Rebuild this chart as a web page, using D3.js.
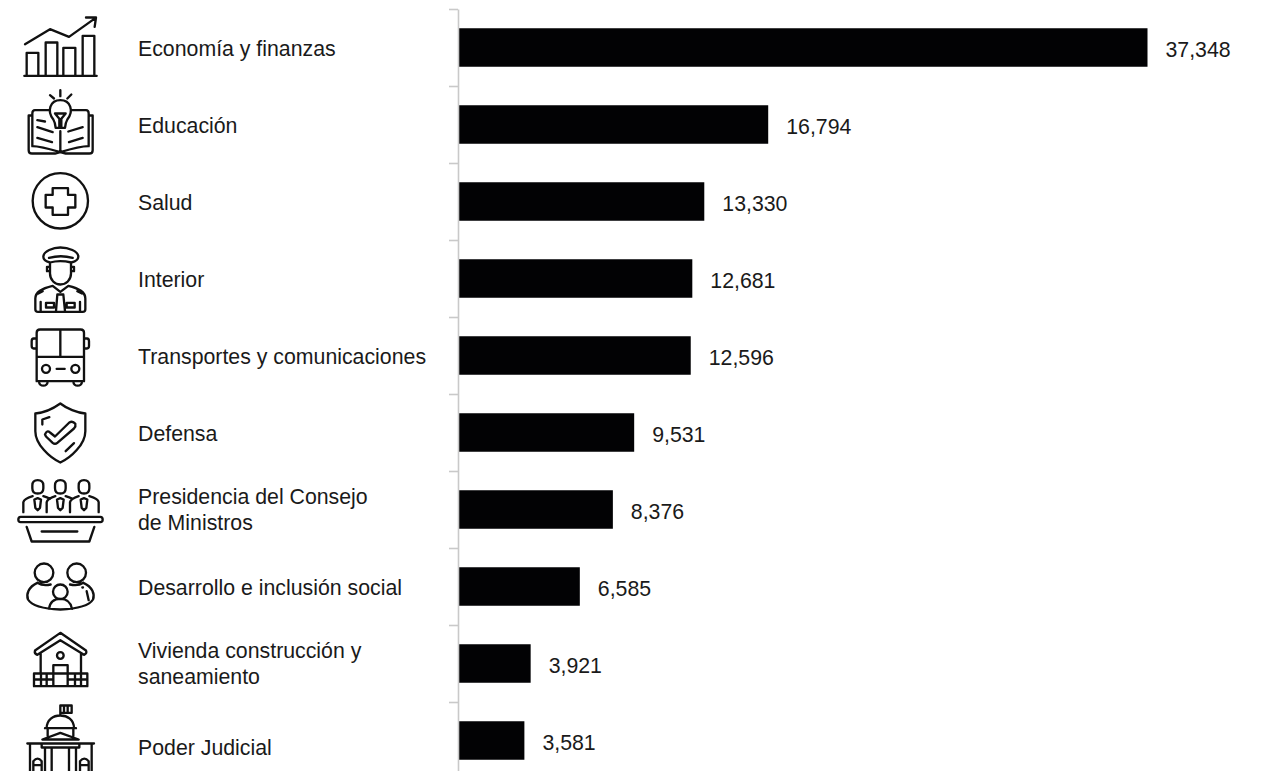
<!DOCTYPE html>
<html>
<head>
<meta charset="utf-8">
<script src="https://cdn.jsdelivr.net/npm/d3@7"></script>
<style>
  html, body { margin: 0; padding: 0; background: #fff; overflow: hidden; }
  text { font-family: "Liberation Sans", Arial, sans-serif; font-size: 21.3px; fill: #1a1a1a; }
</style>
</head>
<body>
<div id="chart"></div>
<script>
var categories = ["Economía y finanzas", "Educación", "Salud", "Interior", "Transportes y comunicaciones",
  "Defensa", "Presidencia del Consejo\nde Ministros", "Desarrollo e inclusión social",
  "Vivienda construcción y\nsaneamiento", "Poder Judicial"];
var values = [37348, 16794, 13330, 12681, 12596, 9531, 8376, 6585, 3921, 3581];

// icons, traced at 3x, each one with the y of its row centre in the trace
var iconOrigins = [142, 375, 605, 130, 363, 594, 120, 351, 582, 813];
var icons = [
  // economia
  "M75 132L150 87L207 110L287 53M258 52H288L284 80M80 226V158H115V226M137 226V127H172V226M190 226V143H226V226M248 226V107H283V226M73 227H290",
  // educacion
  "M160 360C140 335 150 302 181 302C212 302 222 335 202 360C197 368 196 375 195 385H167C166 375 165 368 160 360ZM181 272V290M150 287L162 297M214 285L202 297M165 342H197L184 358V382M178 382V358L165 342M150 332H105Q97 332 97 342V440Q120 440 181 458M215 332H258Q266 332 266 342V440Q240 440 181 458M181 395V458M97 348H86V452Q86 462 96 462H165L181 458L197 462H268Q278 462 278 452V348H266M112 362L135 366M112 383L158 398M112 415L156 428M248 383L205 396M248 415L207 428",
  // salud
  "M98 603A83 83 0 1 0 264 603A83 83 0 1 0 98 603ZM158 565H204V585H226V623H204V645H158V623H137V585H158Z",
  // interior
  "M130 65C130 48 160 37 181 37C205 37 235 48 235 65C235 76 222 80 214 82C190 76 170 76 150 82C140 80 130 76 130 65ZM147 68C170 62 195 62 218 68M150 82V115C150 135 165 148 181 148C198 148 213 135 213 115V82M150 95H141V108H150M213 95H222V108H213M106 222V190C106 170 125 160 158 152L181 170L205 152C238 160 256 170 256 190V222Q256 230 248 230H114Q106 230 106 222ZM172 178L168 228M190 178L195 228M172 178H190M138 203H162V217H138ZM200 203H224V217H200ZM115 175L128 168M246 175L232 168M122 200V228M240 200V228",
  // transportes
  "M120 285H242Q252 285 252 295V440H110V295Q110 285 120 285ZM181 287V365M110 367H252M109 312H101Q95 312 95 320V334Q95 342 101 342H109M253 312H261Q267 312 267 320V334Q267 342 261 342H253M126 403A12 12 0 1 0 150 403A12 12 0 1 0 126 403ZM214 403A12 12 0 1 0 238 403A12 12 0 1 0 214 403ZM170 403H194M117 440C117 458 143 458 143 440M220 440C220 458 246 458 246 440",
  // defensa
  "M181 507C160 522 130 535 106 537V590C106 630 150 670 181 684C212 670 256 630 256 590V537C232 535 200 522 181 507ZM135 600Q141 585 150 594L165 606L208 564Q218 558 226 568Q228 576 222 582L172 625Q165 631 158 625L138 606ZM127 570V555L148 548M197 650L222 626",
  // presidencia
  "M62 142H301Q308 142 308 150Q308 158 301 158H62Q55 158 55 150Q55 142 62 142ZM80 172L95 216H268L283 172M125 186H232M97 48Q97 32 113 32Q130 32 130 48V56Q130 72 113 72Q97 72 97 56ZM165 48Q165 32 181 32Q197 32 197 48V56Q197 72 181 72Q165 72 165 56ZM236 48Q236 32 252 32Q268 32 268 48V56Q268 72 252 72Q236 72 236 56ZM70 128V98Q72 88 98 80M130 80Q142 84 150 88M140 128V98Q142 88 166 80M197 80Q208 84 218 88M210 128V98Q212 88 236 80M268 80Q295 88 296 98V128M103 90L113 86L123 90L120 115L113 122L106 115ZM171 90L181 86L191 90L188 115L181 122L174 115ZM242 90L252 86L262 90L259 115L252 122L245 115Z",
  // desarrollo
  "M104 310A28 28 0 1 0 160 310A28 28 0 1 0 104 310ZM202 310A28 28 0 1 0 258 310A28 28 0 1 0 202 310ZM159 367A22 22 0 1 0 203 367A22 22 0 1 0 159 367ZM112 340C85 352 78 375 84 390C95 408 130 418 181 420C232 418 268 408 279 390C285 375 278 352 250 340M147 418C150 395 165 388 181 388C197 388 212 395 216 418M112 340C125 348 140 348 152 345M250 340C238 348 222 348 210 345M260 365L266 392M247 354H249",
  // vivienda
  "M181 490L258 543Q262 552 252 556L181 512L112 556Q102 552 105 543ZM122 553V610M243 553V610M171 558A10 10 0 1 0 191 558A10 10 0 1 0 171 558ZM160 648V587H203V648M102 612H262V650H102ZM102 630H160M203 630H262M123 612V650M140 612V650M225 612V650M243 612V650",
  // poder judicial
  "M140 776C140 750 160 738 181 738C202 738 222 750 222 776M135 776H228M143 776V800M220 776V800M181 738V708H215V730H181M192 708V730M203 708V730M127 810L181 790L236 810ZM125 822H238V834H125ZM82 822H282M135 834V905M155 834V905M207 834V905M228 834V905M90 822V905M275 822V905M100 905V875Q113 860 125 875V905M240 905V875Q253 860 266 875V905M102 887H123M242 887H264"
];

var width = 1262, height = 771;
var iconScale = 1 / 3;

var svg = d3.select("#chart").append("svg")
  .attr("width", width)
  .attr("height", height)
  .style("display", "block");

var x = d3.scaleLinear()
  .domain([0, d3.max(values)])
  .range([458.3, 1147.5]);

var y = d3.scaleBand()
  .domain(categories)
  .range([9, 779])
  .paddingInner(0.5)
  .paddingOuter(0.25);

// the ticks sit between the rows, so the axis gets its own scale of row edges
var rowEdge = d3.scaleLinear()
  .domain([0, categories.length])
  .range([9, 779]);

// bars
svg.append("g")
  .selectAll("rect")
  .data(values)
  .enter()
  .append("rect")
    .attr("x", x(0))
    .attr("y", function(d, i) { return y(categories[i]); })
    .attr("width", function(d) { return x(d) - x(0); })
    .attr("height", y.bandwidth())
    .attr("fill", "#020204");

// axis goes over the bars' left edge
var axis = svg.append("g")
  .attr("transform", "translate(458,0)")
  .call(d3.axisLeft(rowEdge)
    .tickValues(d3.range(categories.length))
    .tickSize(9)
    .tickSizeOuter(0)
    .tickFormat(""));
axis.selectAll("path, line")
  .attr("stroke", "#c9c9c9")
  .attr("stroke-width", 1.6);

// value labels
svg.append("g")
  .selectAll("text")
  .data(values)
  .enter()
  .append("text")
    .attr("x", function(d) { return x(d) + 18; })
    .attr("y", function(d, i) { return y(categories[i]) + y.bandwidth() / 2 + 9.5; })
    .text(d3.format(","));

// category labels, one or two lines
var labels = svg.append("g")
  .selectAll("text")
  .data(categories)
  .enter()
  .append("text")
    .attr("x", 138)
    .attr("y", function(d, i) {
      var mid = y(d) + y.bandwidth() / 2;
      if (i == categories.length - 1) return mid + 14;  // the last one sits lower than its bar
      return d.indexOf("\n") >= 0 ? mid - 6 : mid + 8;
    });
labels.selectAll("tspan")
  .data(function(d) { return d.split("\n"); })
  .enter()
  .append("tspan")
    .attr("x", 138)
    .attr("dy", function(d, i) { return i == 0 ? 0 : 26; })
    .text(function(d) { return d; });

// icons
svg.append("g")
  .selectAll("path")
  .data(icons)
  .enter()
  .append("path")
    .attr("d", function(d) { return d; })
    .attr("transform", function(d, i) {
      return "translate(0," + (y(categories[i]) + y.bandwidth() / 2) + ") scale(" + iconScale + ") translate(0," + (-iconOrigins[i]) + ")";
    })
    .attr("fill", "none")
    .attr("stroke", "#111")
    .attr("stroke-width", 7)
    .attr("stroke-linecap", "round")
    .attr("stroke-linejoin", "round");
</script>
</body>
</html>
